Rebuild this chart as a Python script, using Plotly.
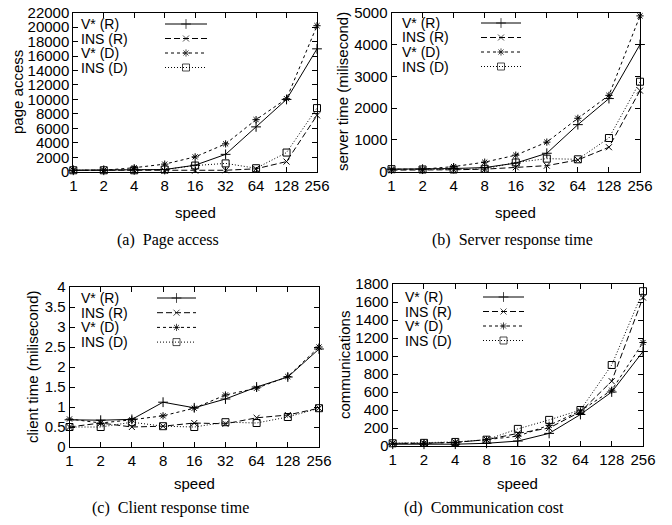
import math
import plotly.graph_objects as go

W, H = 672, 525

speeds = [1, 2, 4, 8, 16, 32, 64, 128, 256]
tick_labels = ["1", "2", "4", "8", "16", "32", "64", "128", "256"]
series_names = ["V* (R)", "INS (R)", "V* (D)", "INS (D)"]

# (a) Page access
page_vstar_r = [200, 200, 250, 300, 900, 2400, 6200, 10000, 17000]
page_ins_r = [200, 200, 200, 150, 150, 200, 400, 1400, 7800]
page_vstar_d = [200, 200, 550, 1050, 2050, 3850, 7200, 10100, 20200]
page_ins_d = [200, 200, 200, 300, 850, 1150, 480, 2650, 8800]

# (b) Server response time
server_vstar_r = [80, 80, 100, 130, 270, 580, 1480, 2300, 4000]
server_ins_r = [50, 50, 60, 80, 140, 190, 370, 770, 2550]
server_vstar_d = [80, 80, 160, 300, 520, 930, 1680, 2400, 4900]
server_ins_d = [80, 70, 70, 90, 290, 410, 390, 1060, 2830]

# (c) Client response time
client_vstar_r = [0.68, 0.67, 0.69, 1.12, 0.98, 1.20, 1.50, 1.75, 2.45]
client_ins_r = [0.50, 0.60, 0.50, 0.52, 0.60, 0.58, 0.73, 0.80, 0.97]
client_vstar_d = [0.70, 0.60, 0.68, 0.78, 0.97, 1.30, 1.47, 1.76, 2.50]
client_ins_d = [0.50, 0.50, 0.62, 0.52, 0.50, 0.62, 0.60, 0.75, 0.97]

# (d) Communication cost
comm_vstar_r = [20, 20, 20, 30, 55, 140, 350, 600, 1050]
comm_ins_r = [30, 30, 40, 70, 140, 200, 380, 720, 1650]
comm_vstar_d = [30, 30, 40, 70, 110, 230, 390, 620, 1150]
comm_ins_d = [30, 35, 45, 70, 190, 290, 400, 900, 1720]

y_titles = ["page access", "server time (milisecond)",
            "client time (milisecond)", "communications"]
captions = ["(a)  Page access", "(b)  Server response time",
            "(c)  Client response time", "(d)  Communication cost"]

styles = [
    dict(dash="solid", symbol="cross-thin", size=7),
    dict(dash="6px,3px", symbol="x-thin", size=6),
    dict(dash="3px,3px", symbol="asterisk", size=6),
    dict(dash="1px,2px", symbol="square-open", size=7),
]

panels = [
    dict(data=[page_vstar_r, page_ins_r, page_vstar_d, page_ins_d],
         yr=[0, 22000], dt=2000, px=(73.3, 317), py=(12.7, 171.7)),
    dict(data=[server_vstar_r, server_ins_r, server_vstar_d, server_ins_d],
         yr=[0, 5000], dt=1000, px=(391.5, 640), py=(12.7, 171.7)),
    dict(data=[client_vstar_r, client_ins_r, client_vstar_d, client_ins_d],
         yr=[0, 4], dt=0.5, px=(69.5, 319), py=(287, 447)),
    dict(data=[comm_vstar_r, comm_ins_r, comm_vstar_d, comm_ins_d],
         yr=[0, 1800], dt=200, px=(392.7, 643), py=(284, 446)),
]

# legend layout per panel (pixels): text left, first row y, row step, sample x0, x1
legend_pos = [
    (79, 24, 14.5, 165, 207),
    (400, 23, 14.5, 481, 521),
    (79, 298, 14.7, 157, 196),
    (403, 297, 14.5, 483, 524),
]
ytitle_pos = [(18, 92), (343, 92), (32, 367), (344, 365)]
speed_y = [212, 212, 483, 483]
caption_pos = [(168, 240), (512, 240), (170, 508), (484, 508)]

LOGMAX = math.log10(256)

fig = go.Figure()
layout = dict(
    width=W, height=H, margin=dict(l=0, r=0, t=0, b=0),
    paper_bgcolor="white", plot_bgcolor="rgba(0,0,0,0)", showlegend=False,
    font=dict(family="Liberation Sans, Arial, sans-serif", size=15, color="black"),
)
annotations = []

for i, p in enumerate(panels):
    n = i + 1
    xa = "x" if n == 1 else f"x{n}"
    ya = "y" if n == 1 else f"y{n}"
    for s, (vals, st) in enumerate(zip(p["data"], styles)):
        fig.add_trace(go.Scatter(
            x=speeds, y=vals, xaxis=xa, yaxis=ya, mode="lines+markers",
            name=series_names[s],
            line=dict(color="black", width=1, dash=st["dash"]),
            marker=dict(symbol=st["symbol"], size=st["size"], color="black",
                        line=dict(color="black", width=1)),
            cliponaxis=False,
        ))
    x0, x1 = p["px"]
    y0, y1 = p["py"]
    xkey = "xaxis" if n == 1 else f"xaxis{n}"
    ykey = "yaxis" if n == 1 else f"yaxis{n}"
    layout[xkey] = dict(
        domain=[x0 / W, x1 / W], anchor=ya, type="log",
        range=[0, LOGMAX], tickvals=speeds, ticktext=tick_labels,
        ticks="inside", ticklen=5, tickcolor="black", showline=True,
        linecolor="black", linewidth=1, mirror="ticks", showgrid=False,
        zeroline=False, tickfont=dict(size=15), automargin=False,
    )
    layout[ykey] = dict(
        domain=[1 - y1 / H, 1 - y0 / H], anchor=xa, range=p["yr"],
        tick0=0, dtick=p["dt"], tickformat="d" if p["dt"] >= 1 else "",
        ticks="inside", ticklen=5, tickcolor="black",
        showline=True, linecolor="black", linewidth=1, mirror="ticks",
        showgrid=False, zeroline=False, tickfont=dict(size=15),
        automargin=False,
    )
    tx, ty = ytitle_pos[i]
    annotations.append(dict(text=y_titles[i], x=tx / W, y=1 - ty / H,
                            xref="paper", yref="paper", showarrow=False,
                            textangle=-90, xanchor="center", yanchor="middle",
                            font=dict(size=15)))
    annotations.append(dict(text="speed", x=(x0 + x1) / 2 / W,
                            y=1 - speed_y[i] / H, xref="paper", yref="paper",
                            showarrow=False, xanchor="center", yanchor="middle",
                            font=dict(size=15)))
    cx, cy = caption_pos[i]
    annotations.append(dict(text=captions[i], x=cx / W, y=1 - cy / H,
                            xref="paper", yref="paper", showarrow=False,
                            xanchor="center", yanchor="middle",
                            font=dict(family="Liberation Serif, Times New Roman, serif",
                                      size=16)))

    # legend (text on left, sample on right), placed in the panel's own axes
    def to_x(px):
        return 10 ** ((px - x0) / (x1 - x0) * LOGMAX)

    def to_y(py):
        return p["yr"][0] + (y1 - py) / (y1 - y0) * (p["yr"][1] - p["yr"][0])

    lx, ly, step, sx0, sx1 = legend_pos[i]
    for s, st in enumerate(styles):
        yy = ly + s * step
        annotations.append(dict(text=series_names[s], x=lx / W, y=1 - yy / H,
                                xref="paper", yref="paper", showarrow=False,
                                xanchor="left", yanchor="middle",
                                font=dict(size=14)))
        fig.add_trace(go.Scatter(
            x=[to_x(sx0), to_x((sx0 + sx1) / 2), to_x(sx1)],
            y=[to_y(yy)] * 3, xaxis=xa, yaxis=ya, mode="lines+markers",
            line=dict(color="black", width=1, dash=st["dash"]),
            marker=dict(symbol=st["symbol"], size=[0, st["size"], 0],
                        color="black", line=dict(color="black", width=1)),
            hoverinfo="skip",
        ))

layout["annotations"] = annotations
fig.update_layout(**layout)

fig.write_html("out.html", config={"displayModeBar": False},
               post_script="document.body.style.margin='0';")
